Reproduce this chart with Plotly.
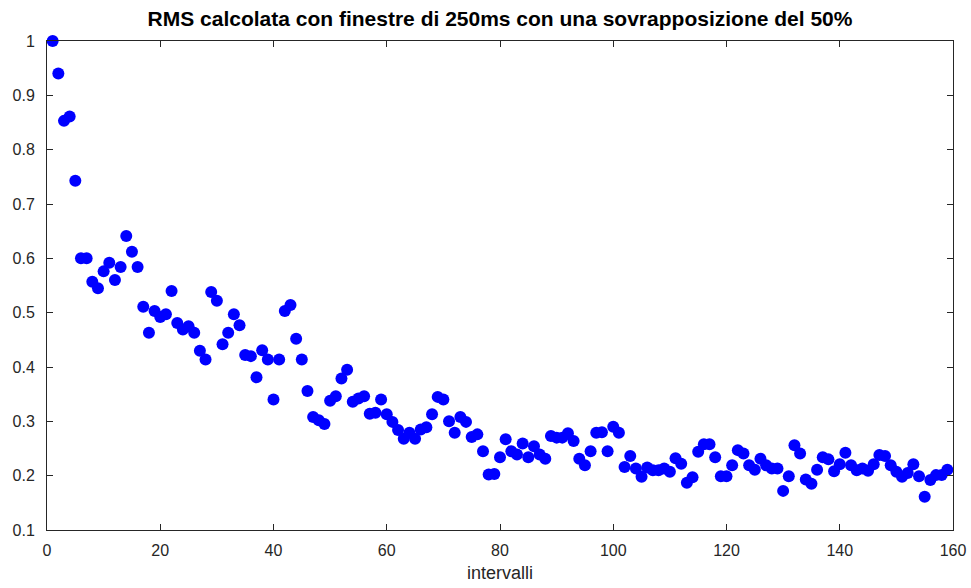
import plotly.graph_objects as go

# RMS values per interval (normalised), one per 250 ms window with 50% overlap
intervalli = list(range(1, 160))
rms = [
    1.0, 0.94, 0.853, 0.861, 0.743, 0.60, 0.60, 0.557, 0.545, 0.576,
    0.592, 0.56, 0.584, 0.641, 0.612, 0.584, 0.511, 0.463, 0.503, 0.492,
    0.497, 0.54, 0.481, 0.469, 0.475, 0.463, 0.43, 0.414, 0.538, 0.522,
    0.442, 0.463, 0.497, 0.477, 0.422, 0.42, 0.381, 0.431, 0.414, 0.34,
    0.414, 0.503, 0.514, 0.452, 0.414, 0.356, 0.308, 0.302, 0.295, 0.338,
    0.346, 0.379, 0.395, 0.336, 0.342, 0.346, 0.314, 0.316, 0.34, 0.313,
    0.299, 0.284, 0.268, 0.279, 0.268, 0.285, 0.289, 0.313, 0.345, 0.34,
    0.30, 0.279, 0.308, 0.299, 0.271, 0.276, 0.245, 0.202, 0.203, 0.234,
    0.267, 0.245, 0.239, 0.259, 0.234, 0.254, 0.239, 0.231, 0.273, 0.27,
    0.27, 0.278, 0.264, 0.231, 0.219, 0.245, 0.279, 0.28, 0.245, 0.29,
    0.279, 0.216, 0.236, 0.213, 0.198, 0.215, 0.21, 0.21, 0.213, 0.207,
    0.232, 0.222, 0.187, 0.197, 0.244, 0.258, 0.258, 0.234, 0.199, 0.199,
    0.219, 0.247, 0.241, 0.219, 0.211, 0.231, 0.219, 0.213, 0.213, 0.172,
    0.199, 0.256, 0.241, 0.193, 0.185, 0.211, 0.234, 0.23, 0.208, 0.221,
    0.242, 0.219, 0.21, 0.213, 0.209, 0.221, 0.238, 0.236, 0.219, 0.207,
    0.198, 0.205, 0.221, 0.199, 0.161, 0.192, 0.201, 0.201, 0.211,
]

x_ticks = [0, 20, 40, 60, 80, 100, 120, 140, 160]
y_ticks = [0.1, 0.2, 0.3, 0.4, 0.5, 0.6, 0.7, 0.8, 0.9, 1.0]
y_labels = ["0.1", "0.2", "0.3", "0.4", "0.5", "0.6", "0.7", "0.8", "0.9", "1"]

axis_col = "#262626"
font_family = "Liberation Sans, Arial, sans-serif"

fig = go.Figure(
    go.Scatter(
        x=intervalli,
        y=rms,
        mode="markers",
        marker=dict(color="#0000ff", size=12, line=dict(width=0)),
        cliponaxis=False,
        showlegend=False,
    )
)

fig.update_layout(
    width=971,
    height=588,
    margin=dict(l=47, r=18, t=41, b=58, autoexpand=False),
    paper_bgcolor="white",
    plot_bgcolor="white",
    font=dict(family=font_family, color=axis_col, size=15),
    title=dict(
        text="<b>RMS calcolata con finestre di 250ms con una sovrapposizione del 50%</b>",
        x=(47 + 953) / 2 / 971,
        xanchor="center",
        y=1 - 19 / 588,
        yanchor="middle",
        font=dict(size=21, color="#000000", family=font_family),
    ),
)

fig.update_xaxes(
    range=[0, 160],
    tickvals=x_ticks,
    ticktext=[str(v) for v in x_ticks],
    ticks="inside",
    ticklen=6,
    tickcolor=axis_col,
    showline=True,
    linecolor=axis_col,
    linewidth=1,
    mirror="ticks",
    showgrid=False,
    zeroline=False,
    automargin=False,
    ticklabelstandoff=6,
    tickfont=dict(size=16, color=axis_col),
    title=dict(text="intervalli", font=dict(size=18, color=axis_col), standoff=8),
)

fig.update_yaxes(
    range=[0.1, 1.0],
    tickvals=y_ticks,
    ticktext=y_labels,
    ticks="inside",
    ticklen=6,
    tickcolor=axis_col,
    showline=True,
    linecolor=axis_col,
    linewidth=1,
    mirror="ticks",
    showgrid=False,
    zeroline=False,
    automargin=False,
    ticklabelstandoff=8,
    tickfont=dict(size=16, color=axis_col),
)

fig.write_html("out.html")
